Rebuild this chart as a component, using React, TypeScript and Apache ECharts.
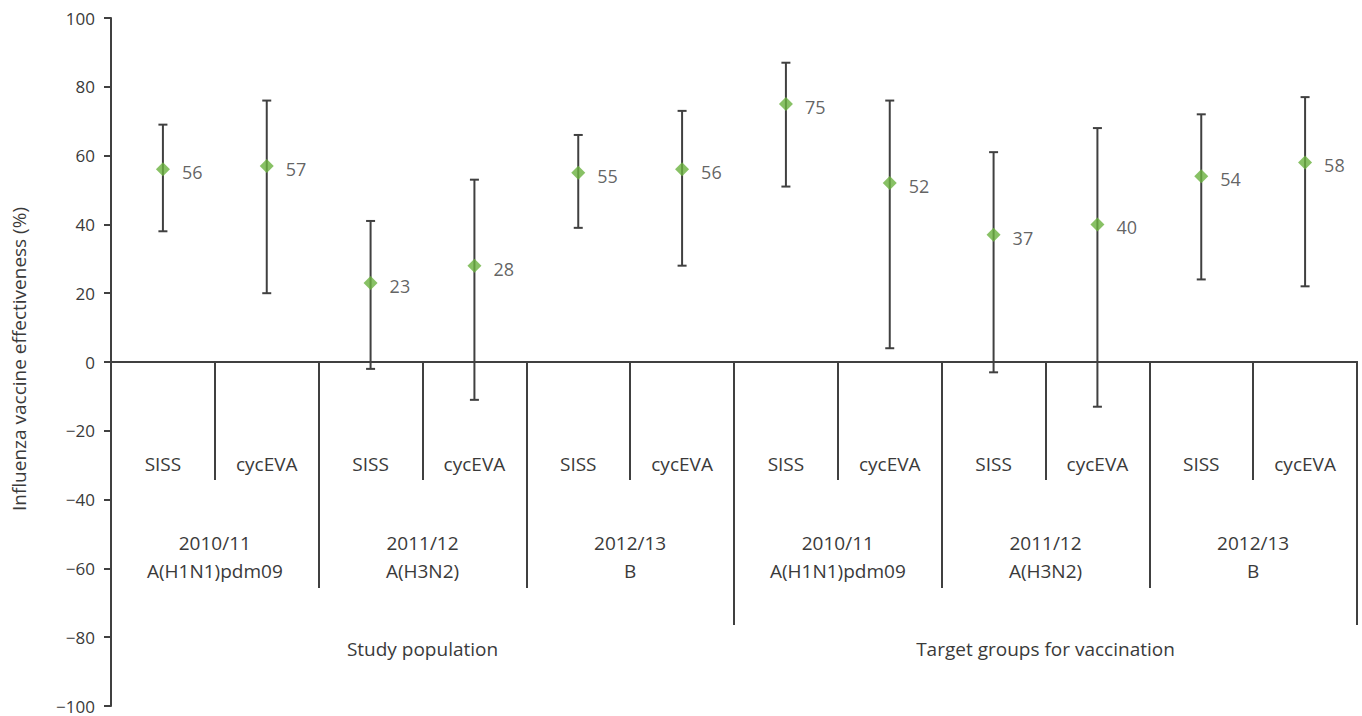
import React, { useEffect, useRef } from "react";
import * as echarts from "echarts";

const subCategories = [
  "SISS", "cycEVA", "SISS", "cycEVA", "SISS", "cycEVA",
  "SISS", "cycEVA", "SISS", "cycEVA", "SISS", "cycEVA",
];
const seasonCategories = [
  "2010/11\nA(H1N1)pdm09",
  "2011/12\nA(H3N2)",
  "2012/13\nB",
  "2010/11\nA(H1N1)pdm09",
  "2011/12\nA(H3N2)",
  "2012/13\nB",
];
const populationCategories = ["Study population", "Target groups for vaccination"];
const veValues = [56, 57, 23, 28, 55, 56, 75, 52, 37, 40, 54, 58];
const ciLow = [38, 20, -2, -11, 39, 28, 51, 4, -3, -13, 24, 22];
const ciHigh = [69, 76, 41, 53, 66, 73, 87, 76, 61, 68, 72, 77];
const yAxisTitle = "Influenza vaccine effectiveness (%)";

const FONT = "Open Sans";
const TEXT = "#3a3a3a";
const LINE = "#404040";
const GREEN = "#6ab23f";

const GRID_TOP = 18;
const GRID_BOTTOM = 10;
const H = 716;

export default function App() {
  const ref = useRef<HTMLDivElement>(null);
  useEffect(() => {
    if (!ref.current) return;
    const chart = echarts.init(ref.current, null, { renderer: "svg" });
    const errData = veValues.map((_, i) => [i, ciLow[i], ciHigh[i]]);
    const pointData = veValues.map((v, i) => [i, v]);
    const zeroY = GRID_TOP + (H - GRID_TOP - GRID_BOTTOM) / 2;
    const lowerAxis = (data: string[], tickLen: number, margin: number, extra: any = {}) => ({
      type: "category" as const,
      gridIndex: 1,
      position: "top" as const,
      boundaryGap: true,
      data,
      axisLine: { show: true, onZero: false, lineStyle: { color: LINE, width: 2 } },
      axisTick: { show: true, inside: true, interval: 0, length: tickLen, lineStyle: { color: LINE, width: 2 } },
      axisLabel: { inside: true, interval: 0, margin, fontSize: 19, color: TEXT, fontFamily: FONT, ...extra },
      splitLine: { show: false },
    });
    chart.setOption({
      animation: false,
      grid: [
        { left: 111, right: 5, top: GRID_TOP, bottom: GRID_BOTTOM, containLabel: false, outerBoundsMode: "none" },
        { left: 111, right: 5, top: zeroY, bottom: GRID_BOTTOM, containLabel: false, outerBoundsMode: "none" },
      ],
      textStyle: { fontFamily: FONT },
      graphic: [
        {
          type: "text",
          x: 19,
          y: zeroY - 3,
          rotation: Math.PI / 2,
          style: {
            text: yAxisTitle,
            fontSize: 19,
            fontFamily: FONT,
            fill: TEXT,
            align: "center",
            verticalAlign: "middle",
          },
        },
      ],
      xAxis: [
        {
          type: "category",
          gridIndex: 0,
          boundaryGap: true,
          data: subCategories,
          show: false,
        },
        lowerAxis(subCategories, 118, 92),
        lowerAxis(seasonCategories, 226, 167, { lineHeight: 28 }),
        lowerAxis(populationCategories, 263, 277),
      ],
      yAxis: [
        {
          type: "value",
          gridIndex: 0,
          min: -100,
          max: 100,
          interval: 20,
          axisLine: { show: true, onZero: false, lineStyle: { color: LINE, width: 2 } },
          axisTick: { show: true, length: 7, lineStyle: { color: LINE, width: 2 } },
          axisLabel: {
            margin: 16,
            fontSize: 17,
            color: TEXT,
            fontFamily: FONT,
            formatter: (v: number) => String(v).replace("-", "\u2212"),
          },
          splitLine: { show: false },
        },
        { type: "value", gridIndex: 1, min: 0, max: 1, show: false },
      ],
      series: [
        {
          type: "custom",
          xAxisIndex: 0,
          yAxisIndex: 0,
          data: errData,
          encode: { x: 0, y: [1, 2] },
          z: 2,
          renderItem: (params: any, api: any) => {
            const x = api.value(0);
            const lo = api.coord([x, api.value(1)]);
            const hi = api.coord([x, api.value(2)]);
            const hw = 4.5;
            const style = { stroke: LINE, lineWidth: 2, fill: "none" };
            return {
              type: "group",
              children: [
                { type: "line", shape: { x1: lo[0], y1: lo[1], x2: hi[0], y2: hi[1] }, style },
                { type: "line", shape: { x1: lo[0] - hw, y1: lo[1], x2: lo[0] + hw, y2: lo[1] }, style },
                { type: "line", shape: { x1: hi[0] - hw, y1: hi[1], x2: hi[0] + hw, y2: hi[1] }, style },
              ],
            };
          },
        },
        {
          type: "scatter",
          xAxisIndex: 0,
          yAxisIndex: 0,
          data: pointData,
          symbol: "diamond",
          symbolSize: 14,
          z: 3,
          itemStyle: { color: GREEN },
          label: {
            show: true,
            position: "right",
            distance: 12,
            offset: [0, 3],
            fontSize: 18,
            color: TEXT,
            fontFamily: FONT,
            formatter: (p: any) => String(p.value[1]),
          },
        },
      ],
    });
    return () => chart.dispose();
  }, []);
  return (
    <div
      ref={ref}
      style={{ position: "fixed", left: 0, top: 0, width: 1362, height: H, background: "#fff" }}
    />
  );
}
